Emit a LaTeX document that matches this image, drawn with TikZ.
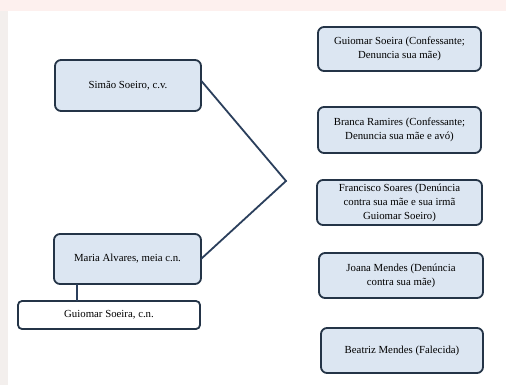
\documentclass[tikz,border=0pt]{standalone}
\usepackage{fontspec}
\setmainfont{Liberation Serif}
\usepackage{tikz}
\definecolor{cFDF0EE}{RGB}{253,240,238}
\definecolor{cF3EFED}{RGB}{243,239,237}
\definecolor{cDCE6F2}{RGB}{220,230,242}
\definecolor{c243447}{RGB}{36,52,71}
\definecolor{c2B3F5C}{RGB}{43,63,92}
\tikzset{
  personbox/.style={draw=c243447,fill=cDCE6F2,line width=1.8pt,rounded corners=6pt,
    align=center,font=\fontsize{10.8}{14}\selectfont,text=black},
  childbox/.style={draw=c243447,fill=white,line width=1.8pt,rounded corners=4pt,
    align=center,font=\fontsize{10.8}{14}\selectfont,text=black},
  familyline/.style={draw=c2B3F5C,line width=1.8pt}
}

\begin{document}
\begin{tikzpicture}[y=1pt,x=1pt,yscale=-1, inner sep=0pt, outer sep=0pt]
  \useasboundingbox (0,0) rectangle (506,385);
  \path[fill=cFDF0EE] (0,0) rectangle (506,385);
  \path[fill=cF3EFED] (0,11) rectangle (8,385);
  \path[fill=white] (8,11) rectangle (506,385);

  % parents
  \node[personbox,minimum width=146pt,minimum height=51pt] (simao) at (128,85.5)
    {Simão Soeiro, c.v.};
  \node[personbox,minimum width=147pt,minimum height=50pt] (maria) at (127.5,259)
    {Maria Alvares, meia c.n.};
  \node[childbox,minimum width=182pt,minimum height=28pt] (guiomarcn) at (109,315)
    {Guiomar Soeira, c.n.};

  % children
  \node[personbox,minimum width=163pt,minimum height=44pt] (guiomar) at (399.5,49)
    {Guiomar Soeira (Confessante;\\ Denuncia sua mãe)};
  \node[personbox,minimum width=163pt,minimum height=46pt] (branca) at (399.5,130)
    {Branca Ramires (Confessante;\\ Denuncia sua mãe e avó)};
  \node[personbox,minimum width=165pt,minimum height=45pt] (francisco) at (399.5,202.5)
    {Francisco Soares (Denúncia\\ contra sua mãe e sua irmã\\ Guiomar Soeiro)};
  \node[personbox,minimum width=164pt,minimum height=45pt] (joana) at (401,275.5)
    {Joana Mendes (Denúncia\\ contra sua mãe)};
  \node[personbox,minimum width=162pt,minimum height=45pt] (beatriz) at (402,350.5)
    {Beatriz Mendes (Falecida)};

  \coordinate (apex) at (286,181);
  \path[familyline] ([yshift=-5pt]simao.east) -- (apex) -- (maria.east);
  \path[familyline] ([xshift=23pt]maria.south west) --
    ([xshift=23pt]maria.south west |- guiomarcn.north);
\end{tikzpicture}
\end{document}
